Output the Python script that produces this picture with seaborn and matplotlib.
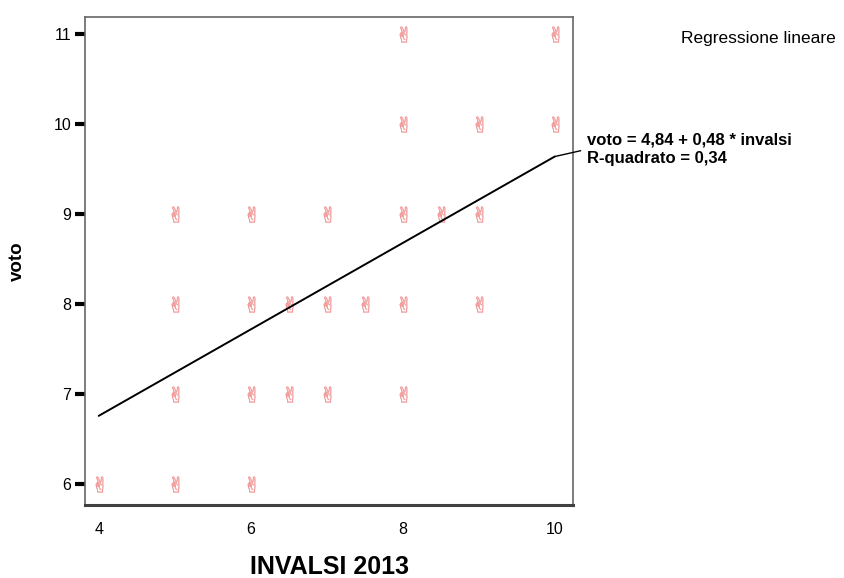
import numpy as np
import pandas as pd
import matplotlib
matplotlib.use('Agg')
import matplotlib.pyplot as plt
import seaborn as sns

# INVALSI 2013 score vs school mark ("voto")
invalsi = [4, 5, 6,
           5, 6, 6.5, 7, 8,
           5, 6, 6.5, 7, 7.5, 8, 9,
           5, 6, 7, 8, 8.5, 9,
           8, 9, 10,
           8, 10]
voto = [6, 6, 6,
        7, 7, 7, 7, 7,
        8, 8, 8, 8, 8, 8, 8,
        9, 9, 9, 9, 9, 9,
        10, 10, 10,
        11, 11]

# linear fit reported in the chart
intercept = 4.84
slope = 0.48
r2 = 0.34
fit_x = [4, 10]

xticks = [4, 6, 8, 10]
yticks = [6, 7, 8, 9, 10, 11]

sns.set_theme(style='white')
plt.rcParams['font.family'] = ['Liberation Sans', 'DejaVu Sans']
plt.rcParams['text.color'] = 'black'
plt.rcParams['axes.labelcolor'] = 'black'
plt.rcParams['xtick.color'] = 'black'
plt.rcParams['ytick.color'] = 'black'

df = pd.DataFrame({'invalsi': invalsi, 'voto': voto})
fit = pd.DataFrame({'invalsi': fit_x,
                    'voto': [intercept + slope * v for v in fit_x]})

fig = plt.figure(figsize=(8.45, 5.78), dpi=100)
ax = fig.add_axes([0.1006, 0.1263, 0.5775, 0.8443])

sns.scatterplot(data=df, x='invalsi', y='voto', ax=ax, marker='$✌$',
                s=130, color='#f29494', edgecolor='#f29494', linewidth=0.3)
sns.lineplot(data=fit, x='invalsi', y='voto', ax=ax, color='black',
             linewidth=1.4)

ax.set_xlim(3.82, 10.24)
ax.set_ylim(5.77, 11.19)
ax.set_xticks(xticks)
ax.set_yticks(yticks)
ax.tick_params(axis='y', which='major', left=True, length=7, width=3,
               color='black', labelsize=11.5, pad=3)
ax.tick_params(axis='x', which='major', bottom=False, labelsize=11.5, pad=6)

for side in ['top', 'left', 'right']:
    ax.spines[side].set_color('#666666')
    ax.spines[side].set_linewidth(1.2)
ax.spines['bottom'].set_color('#404040')
ax.spines['bottom'].set_linewidth(2.2)

ax.set_xlabel('INVALSI 2013', fontsize=18, fontweight='bold', labelpad=13)
ax.set_ylabel('voto', fontsize=13.5, fontweight='bold', labelpad=20)

label = 'voto = {} + {} * invalsi\nR-quadrato = {}'.format(
    str(intercept).replace('.', ','), str(slope).replace('.', ','),
    str(r2).replace('.', ','))
ax.annotate(label, xy=(fit_x[1], intercept + slope * fit_x[1]),
            xytext=(10.42, 9.72), textcoords='data', annotation_clip=False,
            fontsize=12, fontweight='bold', va='center', ha='left',
            linespacing=1.35,
            arrowprops=dict(arrowstyle='-', color='black', lw=1.0,
                            relpos=(0, 0.5), shrinkA=2, shrinkB=0))

fig.text(681 / 845, 1 - 38 / 578, 'Regressione lineare', fontsize=12.5,
         va='center', ha='left')

fig.savefig('out.png', dpi=100)
